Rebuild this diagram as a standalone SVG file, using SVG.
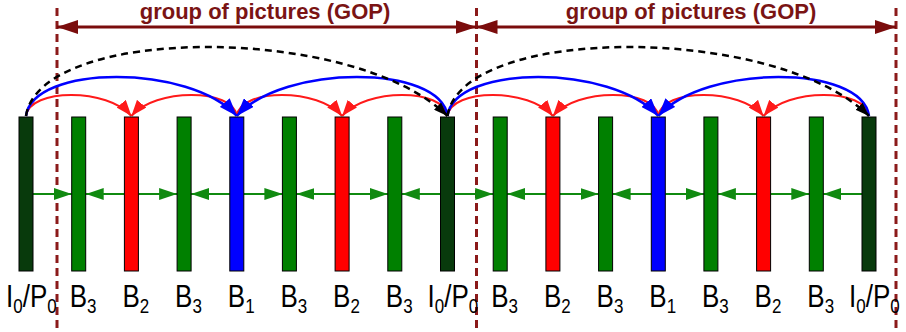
<svg xmlns="http://www.w3.org/2000/svg" width="906" height="332" viewBox="0 0 906 332">
<style>
.bar{stroke:#000;stroke-width:1}
.ip{fill:#083a0c}.b3{fill:#008000}.b2{fill:#ff0000}.b1{fill:#0000ff}
.lbl{font-family:"Liberation Sans",Arial,sans-serif;font-size:26px;fill:#000}
.sub{font-size:17px}
.gop{font-family:"Liberation Sans",Arial,sans-serif;font-size:22px;font-weight:bold;fill:#7a1414;text-anchor:middle}
.vdash{stroke:#8b1a1a;stroke-width:3;stroke-dasharray:8 5;fill:none}
.gline{stroke:#7a0c0c;stroke-width:3;fill:none;marker-start:url(#mg);marker-end:url(#mg)}
.red{stroke:#ff1a1a;stroke-width:2;fill:none;marker-end:url(#mr)}
.blue{stroke:#0000ff;stroke-width:2.5;fill:none;marker-end:url(#mb)}
.blk{stroke:#000;stroke-width:2.5;fill:none;stroke-dasharray:7 5;marker-end:url(#mk)}
.grn{stroke:#108a10;stroke-width:2;fill:none;marker-end:url(#mgr)}
</style>
<defs>
<marker id="mg" markerUnits="userSpaceOnUse" viewBox="0 0 21 14" refX="21" refY="7" markerWidth="21" markerHeight="14" orient="auto-start-reverse"><path d="M0,0 L21,7 L0,14 z" fill="#7a0c0c"/></marker>
<marker id="mr" markerUnits="userSpaceOnUse" viewBox="0 0 16 12" refX="16" refY="6" markerWidth="16" markerHeight="12" orient="auto"><path d="M0,0 L16,6 L0,12 z" fill="#ff1a1a"/></marker>
<marker id="mb" markerUnits="userSpaceOnUse" viewBox="0 0 18 13" refX="18" refY="6.5" markerWidth="18" markerHeight="13" orient="auto"><path d="M0,0 L18,6.5 L0,13 z" fill="#0000ff"/></marker>
<marker id="mk" markerUnits="userSpaceOnUse" viewBox="0 0 14 10" refX="14" refY="5" markerWidth="14" markerHeight="10" orient="auto"><path d="M0,0 L14,5 L0,10 z" fill="#000"/></marker>
<marker id="mgr" markerUnits="userSpaceOnUse" viewBox="0 0 18 12" refX="18" refY="6" markerWidth="18" markerHeight="12" orient="auto"><path d="M0,0 L18,6 L0,12 z" fill="#108a10"/></marker>
</defs>
<rect width="906" height="332" fill="#fff"/>

<g id="gop-markers">
<line class="vdash" x1="57" y1="8" x2="57" y2="332"/>
<line class="vdash" x1="476.5" y1="8" x2="476.5" y2="332"/>
<line class="vdash" x1="896" y1="8" x2="896" y2="332"/>
</g>
<g id="gop1">
<path class="gline" d="M57 27 L476.5 27"/>
<text class="gop" x="265" y="19">group of pictures (GOP)</text>
</g>
<g id="gop2">
<path class="gline" d="M476.5 27 L896 27"/>
<text class="gop" x="691" y="19">group of pictures (GOP)</text>
</g>

<g id="connectors">
<path class="grn" d="M33 194 L71.7 194"/>
<path class="grn" d="M124.4 194 L85.7 194"/>
<path class="grn" d="M138.4 194 L177.1 194"/>
<path class="grn" d="M229.8 194 L191.1 194"/>
<path class="grn" d="M243.8 194 L282.4 194"/>
<path class="grn" d="M335.1 194 L296.4 194"/>
<path class="grn" d="M349.1 194 L387.8 194"/>
<path class="grn" d="M440.5 194 L401.8 194"/>
<path class="grn" d="M454.5 194 L493.2 194"/>
<path class="grn" d="M545.9 194 L507.2 194"/>
<path class="grn" d="M559.9 194 L598.6 194"/>
<path class="grn" d="M651.3 194 L612.6 194"/>
<path class="grn" d="M665.3 194 L703.9 194"/>
<path class="grn" d="M756.6 194 L717.9 194"/>
<path class="grn" d="M770.6 194 L809.3 194"/>
<path class="grn" d="M862 194 L823.3 194"/>

<path class="red" d="M26 116 C29.5 88, 108.2 88, 131.4 116"/>
<path class="red" d="M236.8 116 C233.3 88, 154.6 88, 131.4 116"/>
<path class="red" d="M236.8 116 C240.3 88, 318.9 88, 342.1 116"/>
<path class="red" d="M447.5 116 C444 88, 365.3 88, 342.1 116"/>
<path class="red" d="M447.5 116 C451 88, 529.7 88, 552.9 116"/>
<path class="red" d="M658.3 116 C654.8 88, 576.1 88, 552.9 116"/>
<path class="red" d="M658.3 116 C661.8 88, 740.4 88, 763.6 116"/>
<path class="red" d="M869 116 C865.5 88, 786.8 88, 763.6 116"/>

<path class="blue" d="M26 116 C33 64, 190.4 64, 236.8 116"/>
<path class="blue" d="M447.5 116 C440.5 64, 283.2 64, 236.8 116"/>
<path class="blue" d="M447.5 116 C454.5 64, 611.9 64, 658.3 116"/>
<path class="blue" d="M869 116 C862 64, 704.7 64, 658.3 116"/>

<path class="blk" d="M26 116 C40 24, 354.5 24, 447.5 116"/>
<path class="blk" d="M447.5 116 C461.5 24, 776 24, 869 116"/>
</g>

<g id="f0"><rect class="bar ip" x="19" y="117" width="14" height="154"/><text class="lbl" transform="translate(6,307) scale(1,1.18)">I<tspan class="sub" dy="5">0</tspan><tspan dy="-5">/P</tspan><tspan class="sub" dy="5">0</tspan></text></g>
<g id="f1"><rect class="bar b3" x="71.7" y="117" width="14" height="154"/><text class="lbl" transform="translate(69.7,307) scale(1,1.18)">B<tspan class="sub" dy="5">3</tspan></text></g>
<g id="f2"><rect class="bar b2" x="124.4" y="117" width="14" height="154"/><text class="lbl" transform="translate(122.4,307) scale(1,1.18)">B<tspan class="sub" dy="5">2</tspan></text></g>
<g id="f3"><rect class="bar b3" x="177.1" y="117" width="14" height="154"/><text class="lbl" transform="translate(175.1,307) scale(1,1.18)">B<tspan class="sub" dy="5">3</tspan></text></g>
<g id="f4"><rect class="bar b1" x="229.8" y="117" width="14" height="154"/><text class="lbl" transform="translate(227.8,307) scale(1,1.18)">B<tspan class="sub" dy="5">1</tspan></text></g>
<g id="f5"><rect class="bar b3" x="282.4" y="117" width="14" height="154"/><text class="lbl" transform="translate(280.4,307) scale(1,1.18)">B<tspan class="sub" dy="5">3</tspan></text></g>
<g id="f6"><rect class="bar b2" x="335.1" y="117" width="14" height="154"/><text class="lbl" transform="translate(333.1,307) scale(1,1.18)">B<tspan class="sub" dy="5">2</tspan></text></g>
<g id="f7"><rect class="bar b3" x="387.8" y="117" width="14" height="154"/><text class="lbl" transform="translate(385.8,307) scale(1,1.18)">B<tspan class="sub" dy="5">3</tspan></text></g>
<g id="f8"><rect class="bar ip" x="440.5" y="117" width="14" height="154"/><text class="lbl" transform="translate(427.5,307) scale(1,1.18)">I<tspan class="sub" dy="5">0</tspan><tspan dy="-5">/P</tspan><tspan class="sub" dy="5">0</tspan></text></g>
<g id="f9"><rect class="bar b3" x="493.2" y="117" width="14" height="154"/><text class="lbl" transform="translate(491.2,307) scale(1,1.18)">B<tspan class="sub" dy="5">3</tspan></text></g>
<g id="f10"><rect class="bar b2" x="545.9" y="117" width="14" height="154"/><text class="lbl" transform="translate(543.9,307) scale(1,1.18)">B<tspan class="sub" dy="5">2</tspan></text></g>
<g id="f11"><rect class="bar b3" x="598.6" y="117" width="14" height="154"/><text class="lbl" transform="translate(596.6,307) scale(1,1.18)">B<tspan class="sub" dy="5">3</tspan></text></g>
<g id="f12"><rect class="bar b1" x="651.3" y="117" width="14" height="154"/><text class="lbl" transform="translate(649.3,307) scale(1,1.18)">B<tspan class="sub" dy="5">1</tspan></text></g>
<g id="f13"><rect class="bar b3" x="703.9" y="117" width="14" height="154"/><text class="lbl" transform="translate(701.9,307) scale(1,1.18)">B<tspan class="sub" dy="5">3</tspan></text></g>
<g id="f14"><rect class="bar b2" x="756.6" y="117" width="14" height="154"/><text class="lbl" transform="translate(754.6,307) scale(1,1.18)">B<tspan class="sub" dy="5">2</tspan></text></g>
<g id="f15"><rect class="bar b3" x="809.3" y="117" width="14" height="154"/><text class="lbl" transform="translate(807.3,307) scale(1,1.18)">B<tspan class="sub" dy="5">3</tspan></text></g>
<g id="f16"><rect class="bar ip" x="862" y="117" width="14" height="154"/><text class="lbl" transform="translate(849,307) scale(1,1.18)">I<tspan class="sub" dy="5">0</tspan><tspan dy="-5">/P</tspan><tspan class="sub" dy="5">0</tspan></text></g>
</svg>
